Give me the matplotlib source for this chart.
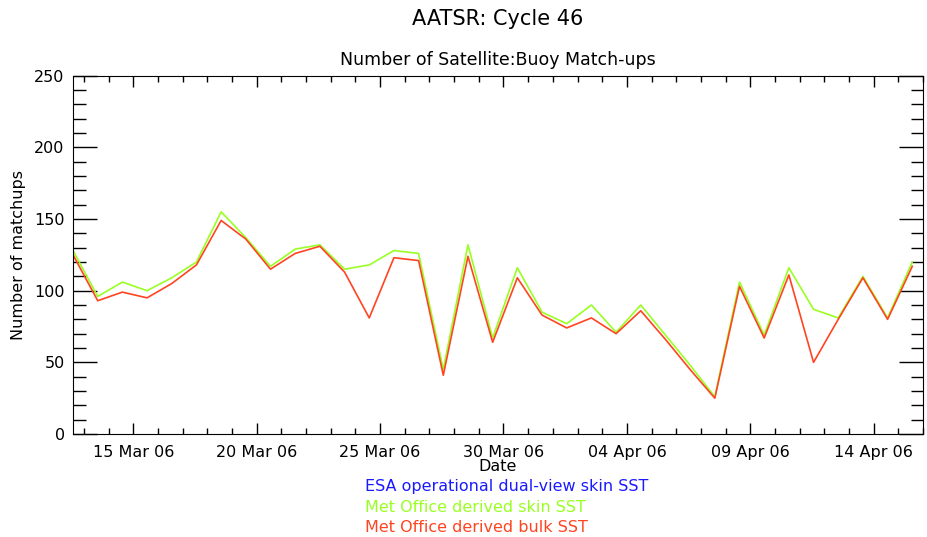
import numpy as np
import pandas as pd
import matplotlib
matplotlib.use('Agg')
import matplotlib.pyplot as plt
import matplotlib.dates as mdates

# one match-up count per day, 12 Mar 06 .. 15 Apr 06
dates = pd.date_range('2006-03-12 13:30', periods=35, freq='D')
skin = [128, 96, 106, 100, 109, 120, 155, 137, 117, 129, 132, 115, 118, 128, 126,
        45, 132, 67, 116, 85, 77, 90, 71, 90, 69, 48, 26, 106, 69, 116,
        87, 81, 110, 81, 120]
bulk = [125, 93, 99, 95, 105, 118, 149, 136, 115, 126, 131, 113, 81, 123, 121,
        41, 124, 64, 109, 83, 74, 81, 70, 86, 66, 45, 25, 103, 67, 111,
        50, 80, 109, 80, 117]
esa = []  # no ESA values plotted in this cycle

major_ticks = pd.date_range('2006-03-15', periods=7, freq='5D')
legend_labels = ['ESA operational dual-view skin SST',
                 'Met Office derived skin SST',
                 'Met Office derived bulk SST']
legend_colors = ['#1a1aff', '#99ff22', '#ff4422']

fig = plt.figure(figsize=(9.28, 5.37), dpi=100)
ax = fig.add_axes([0.0787, 0.1918, 0.916, 0.6672])

ax.plot(dates, skin, color=legend_colors[1], lw=1.2)
ax.plot(dates, bulk, color=legend_colors[2], lw=1.2)

ax.set_xlim(dates[0], pd.Timestamp('2006-04-16'))
ax.set_ylim(0, 250)
ax.set_xticks(major_ticks)
ax.xaxis.set_minor_locator(mdates.DayLocator())
ax.xaxis.set_major_formatter(mdates.DateFormatter('%d %b %y'))
ax.set_yticks(np.arange(0, 251, 50))
ax.set_yticks(np.arange(0, 251, 10), minor=True)

ax.tick_params(axis='both', which='both', direction='in', top=True, right=True,
               labelsize=11.5, width=1)
ax.tick_params(axis='x', which='major', length=8, pad=8)
ax.tick_params(axis='x', which='minor', length=4)
ax.tick_params(axis='y', which='major', length=17, pad=6)
ax.tick_params(axis='y', which='minor', length=9)

ax.set_xlabel('Date', fontsize=11.5, labelpad=-1)
ax.set_ylabel('Number of matchups', fontsize=11.5, labelpad=6)
ax.set_title('Number of Satellite:Buoy Match-ups', fontsize=12.5, pad=8)
fig.text(0.536, 0.965, 'AATSR: Cycle 46', fontsize=15, ha='center', va='center')

for i, (lab, col) in enumerate(zip(legend_labels, legend_colors)):
    fig.text(0.393, 1 - (487 + 20.5 * i) / 537, lab, color=col,
             fontsize=11.5, ha='left', va='center')

fig.savefig('out.png', dpi=100)
